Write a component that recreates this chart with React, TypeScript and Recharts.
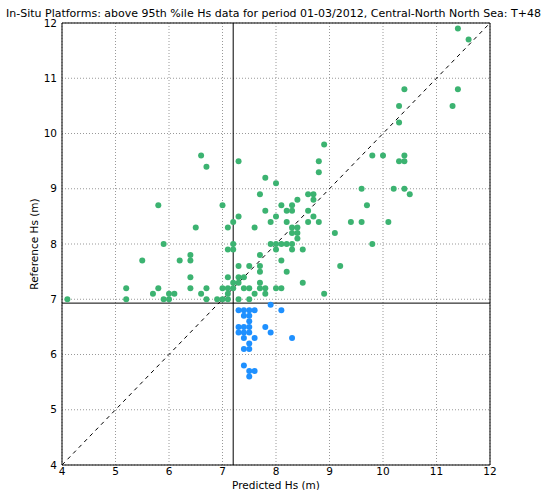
import {
  CartesianGrid,
  ReferenceArea,
  ReferenceLine,
  Scatter,
  ScatterChart,
  XAxis,
  YAxis,
  Label,
} from "recharts";

// predicted vs reference Hs (m), obs above the 95th percentile threshold
const abovePredicted = [
  4.1, 5.2, 5.2, 5.5, 5.7, 5.8, 5.8, 5.9, 5.9, 6.0, 6.0, 6.1, 6.2,
  6.4, 6.4, 6.4, 6.4, 6.5, 6.6, 6.7, 6.6, 6.7, 6.7, 6.9,
  7.0, 7.0, 7.0, 7.1, 7.1, 7.1, 7.1, 7.1, 7.1,
  7.2, 7.2, 7.2, 7.2, 7.2,
  7.3, 7.3, 7.3, 7.3, 7.3, 7.3,
  7.4, 7.4, 7.5, 7.5, 7.5, 7.6, 7.6,
  7.7, 7.7, 7.7, 7.7, 7.7, 7.7,
  7.8, 7.8, 7.8, 7.8, 7.9, 7.9,
  8.0, 8.0, 8.0, 8.0, 8.0,
  8.1, 8.1, 8.1, 8.1, 8.2, 8.2, 8.2, 8.2,
  8.3, 8.3, 8.3, 8.3, 8.3, 8.3,
  8.4, 8.4, 8.4, 8.4, 8.5, 8.5,
  8.6, 8.6, 8.6, 8.7, 8.7, 8.7, 8.8, 8.8, 8.8, 8.9, 8.9,
  9.1, 9.2, 9.4, 9.6, 9.6, 9.7, 9.8, 9.8, 10.0, 10.1,
  10.2, 10.3, 10.3, 10.3, 10.4, 10.4, 10.4, 10.4, 10.5,
  11.3, 11.4, 11.4, 11.6,
];
const aboveReference = [
  7.0, 7.2, 7.0, 7.7, 7.1, 7.2, 8.7, 8.0, 7.0, 7.0, 7.1, 7.1, 7.7,
  7.8, 7.7, 7.4, 7.2, 8.3, 9.6, 9.4, 7.1, 7.2, 7.0, 7.0,
  8.7, 7.2, 7.0, 8.3, 7.9, 7.4, 7.2, 7.1, 7.0,
  8.4, 8.0, 7.9, 7.3, 7.2,
  9.5, 8.5, 7.6, 7.4, 7.3, 7.0,
  7.4, 7.2, 7.6, 7.2, 7.0, 8.3, 7.1,
  8.9, 7.8, 7.6, 7.5, 7.3, 7.2,
  9.2, 8.6, 7.2, 7.1, 8.4, 8.0,
  9.1, 8.5, 8.0, 7.9, 7.2,
  8.7, 8.0, 7.7, 7.2, 8.6, 8.4, 8.0, 7.5,
  8.7, 8.6, 8.3, 8.2, 8.0, 7.9,
  8.8, 8.3, 8.2, 8.1, 7.9, 7.3,
  8.9, 8.6, 8.4, 8.9, 8.8, 8.5, 9.5, 9.3, 8.4, 9.8, 7.1,
  8.2, 7.6, 8.4, 9.0, 8.4, 8.7, 9.6, 8.0, 9.6, 8.4,
  9.0, 10.5, 10.2, 9.5, 10.8, 9.6, 9.5, 9.0, 8.9,
  10.5, 11.9, 10.8, 11.7,
];

// obs below the threshold
const belowPredicted = [
  7.9, 7.3, 7.4, 7.5, 7.6, 8.1, 7.4, 7.5, 7.5, 7.3, 7.4, 7.5, 7.8,
  7.3, 7.4, 7.5, 7.9, 7.4, 7.6, 8.3, 7.5, 7.4, 7.5, 7.4, 7.5, 7.6, 7.5,
];
const belowReference = [
  6.9, 6.8, 6.8, 6.8, 6.8, 6.8, 6.7, 6.7, 6.6, 6.5, 6.5, 6.5, 6.5,
  6.4, 6.4, 6.4, 6.4, 6.3, 6.3, 6.3, 6.2, 6.1, 6.1, 5.8, 5.7, 5.7, 5.6,
];

const axisTicks = [4, 5, 6, 7, 8, 9, 10, 11, 12];
const predictedThreshold = 7.2;
const referenceThreshold = 6.93;

const above = abovePredicted.map((x, i) => ({ x, y: aboveReference[i] }));
const below = belowPredicted.map((x, i) => ({ x, y: belowReference[i] }));

const FONT = "'DejaVu Sans', sans-serif";

const dot = (fill: string) => (props: any) =>
  <circle cx={props.cx} cy={props.cy} r={3} fill={fill} />;

export default function App() {
  return (
    <div style={{ position: "absolute", left: 0, top: 0, width: 545, height: 490, background: "#fff", overflow: "hidden" }}>
      <div
        style={{
          position: "absolute",
          left: 6,
          top: 7,
          whiteSpace: "nowrap",
          fontFamily: FONT,
          fontSize: 11,
          color: "#000",
        }}
      >
        In-Situ Platforms: above 95th %ile Hs data for period 01-03/2012, Central-North North Sea: T+48
      </div>
      <ScatterChart
        width={545}
        height={490}
        margin={{ top: 23, right: 55, bottom: 0, left: 0 }}
        style={{ fontFamily: FONT }}
      >
        <CartesianGrid stroke="#999" strokeDasharray="1 2" strokeWidth={1} />
        <XAxis
          type="number"
          dataKey="x"
          domain={[4, 12]}
          ticks={axisTicks}
          allowDataOverflow
          height={25}
          tickSize={0}
          tickMargin={3}
          axisLine={false}
          tick={{ fill: "#000", fontSize: 10.5 }}
        >
          <Label value="Predicted Hs (m)" position="insideBottom" offset={1} fill="#000" fontSize={10.5} />
        </XAxis>
        <YAxis
          type="number"
          dataKey="y"
          domain={[4, 12]}
          ticks={axisTicks}
          allowDataOverflow
          width={62}
          tickSize={0}
          tickMargin={5}
          axisLine={false}
          tick={{ fill: "#000", fontSize: 10.5 }}
        >
          <Label value="Reference Hs (m)" angle={-90} position="insideLeft" offset={34} fill="#000" fontSize={10.5} style={{ textAnchor: "middle" }} />
        </YAxis>
        <ReferenceLine
          segment={[{ x: 4, y: 4 }, { x: 12, y: 12 }]}
          stroke="#000"
          strokeDasharray="4 4"
        />
        <ReferenceLine x={predictedThreshold} stroke="#000" strokeWidth={1} />
        <ReferenceLine y={referenceThreshold} stroke="#000" strokeWidth={1} />
        <Scatter data={above} shape={dot("#3cb371")} isAnimationActive={false} />
        <Scatter data={below} shape={dot("#1e90ff")} isAnimationActive={false} />
        <ReferenceArea x1={4} x2={12} y1={4} y2={12} fill="none" stroke="#000" strokeWidth={1} fillOpacity={0} />
      </ScatterChart>
    </div>
  );
}
